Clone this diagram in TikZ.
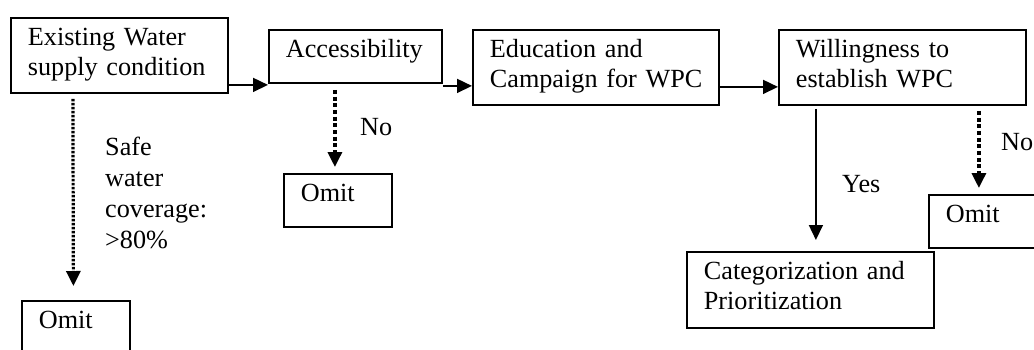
\documentclass[tikz,border=0pt]{standalone}
\usepackage{fontspec}
\setmainfont{Liberation Serif}
\usetikzlibrary{arrows.meta}
\tikzset{
  box/.style={draw, line width=1.8pt, anchor=north west, align=left,
    inner xsep=17pt, inner ysep=0pt, font=\fontsize{26.2}{30}\selectfont,
    text height=28pt, text depth=47pt},
  omitbox/.style={box, text width=74pt, text depth=25pt},
  lbl/.style={anchor=base west, inner sep=0pt, align=left,
    font=\fontsize{26.2}{31}\selectfont},
  arr/.style={line width=1.6pt, -{Triangle[length=15pt,width=14pt]}},
  dotarr/.style={line width=3.2pt, dash pattern=on 2.6pt off 1.4pt,
    -{Triangle[length=15pt,width=14pt]}},
  dasharr/.style={line width=3.3pt, dash pattern=on 4pt off 2.7pt,
    -{Triangle[length=15pt,width=14pt]}},
}
\begin{document}
\begin{tikzpicture}[x=1pt,y=-1pt]
  \useasboundingbox (0,0) rectangle (1034,349);
  % main row
  \node[box, text width=183pt] (exist) at (10,17) {\mbox{Existing Water}\\\mbox{supply condition}};
  \node[box, text width=139pt, text depth=25pt] (access) at (268,29) {\mbox{Accessibility}};
  \node[box, text width=212pt] (educ) at (472,29) {\mbox{Education and}\\\mbox{Campaign for WPC}};
  \node[box, text width=213pt] (will) at (778,29) {\mbox{Willingness to}\\\mbox{establish WPC}};
  % outcomes
  \node[omitbox] (omit1) at (21,300) {Omit};
  \node[omitbox] (omit2) at (283,173) {Omit};
  \node[omitbox, text width=84pt] (omit3) at (928,194) {Omit};
  \node[box, text width=213pt, text depth=48pt] (categ) at (686,251) {\mbox{Categorization and}\\\mbox{Prioritization}};
  % labels
  \node[lbl, text width=120pt] (cover) at (105,155) {Safe\\water\\coverage:\\>80\%};
  \node[lbl] (no1) at (360,135) {No};
  \node[lbl] (yes) at (842,192) {Yes};
  \node[lbl] (no2) at (1001,150) {No};
  % connectors
  \coordinate (a1) at ([yshift=-29.5pt]exist.east);
  \coordinate (a2) at ([yshift=-29.5pt]access.east);
  \coordinate (a3) at ([yshift=-19.5pt]educ.east);
  \draw[arr] (a1) -- (a1 -| access.west);
  \draw[arr] (a2) -- (a2 -| educ.west);
  \draw[arr] (a3) -- (a3 -| will.west);
  \draw[dotarr] ([xshift=-46.5pt,yshift=-5pt]exist.south) -- ([xshift=-2.5pt,yshift=14pt]omit1.north);
  \draw[dasharr] ([xshift=-20.5pt,yshift=-6pt]access.south) -- ([xshift=-3pt,yshift=6pt]omit2.north);
  \draw[arr] ([xshift=-86.5pt,yshift=-3pt]will.south) -- ([xshift=5.5pt,yshift=11pt]categ.north);
  \draw[dasharr] ([xshift=76.5pt,yshift=-5pt]will.south) -- ([xshift=-9pt,yshift=6pt]omit3.north);
\end{tikzpicture}
\end{document}
